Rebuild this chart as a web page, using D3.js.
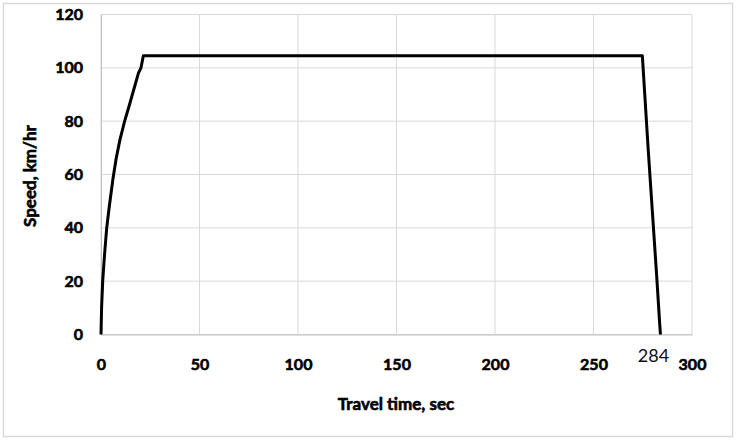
<!DOCTYPE html>
<html><head><meta charset="utf-8">
<script src="https://cdn.jsdelivr.net/npm/d3@7/dist/d3.min.js"></script>
<style>body{margin:0;background:#fff}svg{display:block}</style>
</head><body>
<script>
const timeSec = [0, 0.3, 0.86, 1.8, 2.9, 4.2, 6, 7.7, 9.6, 12, 14.2, 19, 20.3, 21.5, 274.8, 277.8, 282.2, 283.6, 284];
const speedKmh = [0, 10, 20, 30, 40, 48, 58, 66, 73, 80, 85.5, 98, 100, 104.5, 104.5, 69, 20.5, 4, 0];
const xTicks = [0, 50, 100, 150, 200, 250, 300];
const yTicks = [0, 20, 40, 60, 80, 100, 120];
const annotationLabel = "284";
const xTitle = "Travel time, sec";
const yTitle = "Speed, km/hr";

const W = 736, H = 440;
const svg = d3.select("body").append("svg").attr("width", W).attr("height", H);
svg.append("rect").attr("x", 3.5).attr("y", 3.5).attr("width", W - 7).attr("height", H - 7)
  .attr("fill", "#fff").attr("stroke", "#d9d9d9").attr("stroke-width", 1.5);

const x = d3.scaleLinear().domain([0, 300]).range([101, 692]);
const y = d3.scaleLinear().domain([0, 120]).range([334.5, 14.5]);
const font = "Lato, 'Open Sans', sans-serif";

const g = svg.append("g");
g.selectAll(".hg").data(yTicks).join("line")
  .attr("x1", x(0)).attr("x2", x(300)).attr("y1", d => y(d)).attr("y2", d => y(d))
  .attr("stroke", "#d9d9d9").attr("stroke-width", 1);
g.selectAll(".vg").data(xTicks).join("line")
  .attr("y1", y(0)).attr("y2", y(120)).attr("x1", d => x(d)).attr("x2", d => x(d))
  .attr("stroke", "#d9d9d9").attr("stroke-width", 1);

function boldText(sel, size) {
  sel.attr("font-family", font).attr("font-weight", "bold").attr("font-size", size)
    .attr("fill", "#000").attr("stroke", "#000").attr("stroke-width", 0.6);
}

const xAxis = svg.append("g").attr("transform", `translate(0,${y(0)})`)
  .call(d3.axisBottom(x).tickValues(xTicks).tickSize(0).tickPadding(24));
xAxis.select(".domain").attr("stroke", "#bfbfbf");
boldText(xAxis.selectAll("text"), 16);

const yAxis = svg.append("g").attr("transform", `translate(${x(0)},0)`)
  .call(d3.axisLeft(y).tickValues(yTicks).tickSize(0).tickPadding(18));
yAxis.select(".domain").attr("stroke", "#bfbfbf");
boldText(yAxis.selectAll("text"), 16);

const pts = timeSec.map((t, i) => [t, speedKmh[i]]);
svg.append("path").datum(pts)
  .attr("d", d3.line().x(d => x(d[0])).y(d => y(d[1])))
  .attr("fill", "none").attr("stroke", "#000").attr("stroke-width", 3)
  .attr("stroke-linejoin", "round");

svg.append("text").attr("x", x(+annotationLabel) - 7).attr("y", 362)
  .attr("text-anchor", "middle").attr("font-family", font).attr("font-size", 18)
  .attr("fill", "#0d0d1a").text(annotationLabel);

boldText(svg.append("text").attr("x", 396).attr("y", 410).attr("text-anchor", "middle").text(xTitle), 17);

boldText(svg.append("text").attr("transform", "translate(36,176) rotate(-90)")
  .attr("text-anchor", "middle").text(yTitle), 17);
</script>
</body></html>
